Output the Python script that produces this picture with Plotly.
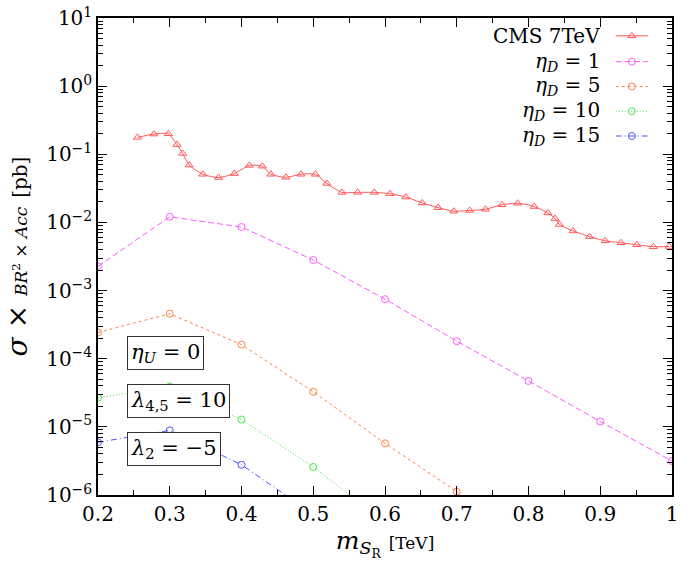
import plotly.graph_objects as go

# ---------------- data ----------------
cms_m = [0.255, 0.278, 0.298, 0.310, 0.318, 0.327, 0.346, 0.368, 0.390, 0.411,
         0.429, 0.441, 0.462, 0.483, 0.503, 0.519, 0.540, 0.562, 0.585, 0.607,
         0.629, 0.652, 0.674, 0.696, 0.718, 0.740, 0.763, 0.785, 0.808, 0.827,
         0.837, 0.843, 0.862, 0.885, 0.907, 0.929, 0.951, 0.974, 0.996]
cms_sigma = [0.177, 0.198, 0.200, 0.139, 0.103, 0.0695, 0.0509, 0.0456, 0.0521, 0.0687,
             0.0670, 0.0509, 0.0460, 0.0509, 0.0509, 0.0373, 0.0276, 0.0276, 0.0276, 0.0264,
             0.0236, 0.0193, 0.0165, 0.0146, 0.0150, 0.0156, 0.0182, 0.0191, 0.0171, 0.0138,
             0.0114, 0.00935, 0.0075, 0.0062, 0.00537, 0.00502, 0.0047, 0.0044, 0.00444]

m_grid = [0.2, 0.3, 0.4, 0.5, 0.6, 0.7, 0.8, 0.9, 1.0]
eta1 = [2.27e-3, 1.21e-2, 8.57e-3, 2.81e-3, 7.48e-4, 1.81e-4, 4.71e-5, 1.20e-5, 3.15e-6]
eta5_m = [0.2, 0.3, 0.4, 0.5, 0.6, 0.7, 0.8]
eta5 = [2.43e-4, 4.57e-4, 1.61e-4, 3.27e-5, 5.74e-6, 1.12e-6, 2.2e-7]
eta10_m = [0.2, 0.3, 0.4, 0.5, 0.6]
eta10 = [2.67e-5, 3.90e-5, 1.28e-5, 2.58e-6, 4.0e-7]
eta15_m = [0.2, 0.3, 0.4, 0.5]
eta15 = [5.94e-6, 8.87e-6, 2.78e-6, 5.2e-7]

y_tickvals = [1e1, 1e0, 1e-1, 1e-2, 1e-3, 1e-4, 1e-5, 1e-6]
y_ticktext = ["10<sup>1</sup>", "10<sup>0</sup>", "10<sup>−1</sup>", "10<sup>−2</sup>",
              "10<sup>−3</sup>", "10<sup>−4</sup>", "10<sup>−5</sup>", "10<sup>−6</sup>"]
x_tickvals = [0.2, 0.3, 0.4, 0.5, 0.6, 0.7, 0.8, 0.9, 1.0]
x_ticktext = ["0.2", "0.3", "0.4", "0.5", "0.6", "0.7", "0.8", "0.9", "1"]

legend_names = ["CMS 7TeV", "<i>η<sub>D</sub></i> = 1", "<i>η<sub>D</sub></i> = 5",
                "<i>η<sub>D</sub></i> = 10", "<i>η<sub>D</sub></i> = 15"]
box_texts = ["<i>η<sub>U</sub></i> = 0", "<i>λ</i><sub>4,5</sub> = 10", "<i>λ</i><sub>2</sub> = −5"]

# ---------------- styles ----------------
FONT = "DejaVu Serif"
c_cms = "rgb(255,85,85)"
c_e1 = "rgb(255,90,255)"
c_e5 = "rgb(255,130,70)"
c_e10 = "rgb(70,230,70)"
c_e15 = "rgb(80,80,255)"

styles = [
    dict(color=c_cms, dash="solid", symbol="triangle-up-open"),
    dict(color=c_e1, dash="6px,3px", symbol="circle-open"),
    dict(color=c_e5, dash="3px,3px", symbol="circle-open"),
    dict(color=c_e10, dash="1px,2px", symbol="circle-open"),
    dict(color=c_e15, dash="6px,3px,1px,3px", symbol="circle-open"),
]

series = [(cms_m, cms_sigma), (m_grid, eta1), (eta5_m, eta5), (eta10_m, eta10), (eta15_m, eta15)]

fig = go.Figure()
for i, ((xs, ys), st) in enumerate(zip(series, styles)):
    fig.add_trace(go.Scatter(
        x=xs, y=ys, mode="lines+markers",
        line=dict(color=st["color"], width=1, dash=st["dash"],
                  shape="spline" if i == 0 else "linear", smoothing=0.6),
        marker=dict(symbol=st["symbol"], size=7, color=st["color"],
                    line=dict(width=1, color=st["color"])),
        showlegend=False, cliponaxis=True,
    ))

# custom legend (text left of sample like gnuplot) on overlay axes
leg_rows = [0.9626, 0.9085, 0.8565, 0.8046, 0.7526]
for st, yr, name in zip(styles, leg_rows, legend_names):
    fig.add_trace(go.Scatter(
        x=[0.902, 0.958], y=[yr, yr], xaxis="x2", yaxis="y2", mode="lines",
        line=dict(color=st["color"], width=1, dash=st["dash"]),
        showlegend=False, hoverinfo="skip"))
    fig.add_trace(go.Scatter(
        x=[0.930], y=[yr], xaxis="x2", yaxis="y2", mode="markers",
        marker=dict(symbol=st["symbol"], size=7, color=st["color"],
                    line=dict(width=1, color=st["color"])),
        showlegend=False, hoverinfo="skip"))
    fig.add_annotation(x=0.878, y=yr, xref="paper", yref="paper", text=name,
                       showarrow=False, xanchor="right", yanchor="middle",
                       font=dict(family=FONT, size=20, color="black"))

box_y = [0.297, 0.1975, 0.0956]
for t, yb in zip(box_texts, box_y):
    fig.add_annotation(x=0.0505, y=yb, xref="paper", yref="paper", text=t,
                       showarrow=False, xanchor="left", yanchor="middle",
                       font=dict(family=FONT, size=21, color="black"),
                       bordercolor="#333", borderwidth=1, borderpad=3,
                       bgcolor="white")

axis_common = dict(showline=True, linecolor="black", linewidth=1.5, mirror="allticks",
                   ticks="inside", tickcolor="black", showgrid=False, zeroline=False,
                   ticklabeloverflow="allow",
                   tickfont=dict(family=FONT, size=20, color="black"))

fig.update_layout(
    width=682, height=565,
    margin=dict(l=98, r=4, t=14, b=70),
    paper_bgcolor="white", plot_bgcolor="white",
    font=dict(family=FONT, color="black"),
    xaxis=dict(range=[0.2, 1.0], tickvals=x_tickvals, ticktext=x_ticktext, ticklen=9,
               minor=dict(tickvals=[0.25, 0.35, 0.45, 0.55, 0.65, 0.75, 0.85, 0.95],
                          ticks="inside", ticklen=5, tickcolor="black", showgrid=False),
               title=dict(text="<i>m</i><sub><i>S</i><sub>R</sub></sub> <span style='font-size:17px'>[TeV]</span>",
                          font=dict(family=FONT, size=25, color="black"), standoff=6),
               **axis_common),
    yaxis=dict(type="log", range=[-6, 1], tickvals=y_tickvals, ticktext=y_ticktext, ticklen=9,
               minor=dict(dtick="D1", ticks="inside", ticklen=5, tickcolor="black", showgrid=False),
               title=dict(text="<i>σ</i> × <span style='font-size:17px'><i>BR</i><sup>2</sup> × <i>Acc</i></span> <span style='font-size:20px'>[pb]</span>",
                          font=dict(family=FONT, size=28, color="black"), standoff=10),
               **axis_common),
    xaxis2=dict(overlaying="x", range=[0, 1], visible=False, anchor="y2"),
    yaxis2=dict(overlaying="y", range=[0, 1], visible=False, anchor="x2"),
)

fig.write_html("out.html")
